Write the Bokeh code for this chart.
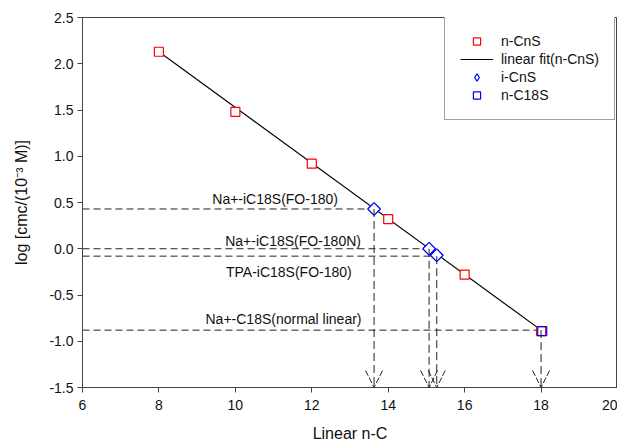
import math
from bokeh.plotting import figure
from bokeh.models import (ColumnDataSource, Arrow, OpenHead, Label, Legend,
                          LegendItem, FixedTicker, Range1d)
from bokeh.embed import file_html
from bokeh.resources import INLINE

# ---- data ----
ncns_x = [8, 10, 12, 14, 16, 18]
ncns_y = [2.13, 1.48, 0.92, 0.32, -0.28, -0.89]
fit_x = [8, 18]
fit_y = [2.13, -0.88]
icns_x = [13.63, 15.07, 15.27]
icns_y = [0.43, 0.0, -0.07]
nc18_x = [18.03]
nc18_y = [-0.89]
guide_x = [13.63, 15.07, 15.27, 18.0]
guide_y = [0.43, 0.0, -0.08, -0.88]
guide_labels = ["Na+-iC18S(FO-180)", "Na+-iC18S(FO-180N)",
                "TPA-iC18S(FO-180)", "Na+-C18S(normal linear)"]
x_ticks = [6, 8, 10, 12, 14, 16, 18, 20]
y_ticks = [-1.5, -1.0, -0.5, 0.0, 0.5, 1.0, 1.5, 2.0, 2.5]

# ---- styling / placement ----
FONT = "Liberation Sans"
AXC = "#444444"
label_cx = [11.04, 11.51, 11.40, 11.26]
label_dy = [10, 8, -16, 11]

p = figure(output_backend="svg", toolbar_location=None,
           frame_width=535, frame_height=370,
           min_border_left=82, min_border_right=0,
           min_border_top=17, min_border_bottom=60,
           x_range=Range1d(6, 20), y_range=Range1d(-1.5, 2.5))
p.xgrid.visible = False
p.ygrid.visible = False
p.outline_line_color = AXC
p.outline_line_width = 1
p.background_fill_color = "white"
p.border_fill_color = "white"

for ax in (p.xaxis[0], p.yaxis[0]):
    ax.axis_line_color = AXC
    ax.major_tick_line_color = AXC
    ax.minor_tick_line_color = None
    ax.major_tick_out = 5
    ax.major_tick_in = 0
    ax.major_label_text_font = FONT
    ax.major_label_text_font_size = "14px"
    ax.major_label_text_color = "#111111"
    ax.axis_label_text_font = FONT
    ax.axis_label_text_font_size = "16px"
    ax.axis_label_text_font_style = "normal"
    ax.axis_label_text_color = "#111111"

p.xaxis.ticker = FixedTicker(ticks=x_ticks)
p.yaxis.ticker = FixedTicker(ticks=y_ticks)
p.yaxis.major_label_overrides = {t: f"{t:.1f}" for t in y_ticks}
p.xaxis.axis_label = "Linear n-C"
p.yaxis.axis_label = "log [cmc/(10⁻³ M)]"
p.xaxis.major_label_standoff = 7
p.yaxis.major_label_standoff = 4
p.xaxis.axis_label_standoff = 12
p.yaxis.axis_label_standoff = 16

# guide lines
gsrc = ColumnDataSource(dict(x0=[6] * len(guide_x), x=guide_x, y=guide_y,
                             yb=[-1.5] * len(guide_x)))
p.segment(x0="x0", y0="y", x1="x", y1="y", source=gsrc,
          line_color="#222222", line_width=1, line_dash="7 4")
p.add_layout(Arrow(source=gsrc, x_start="x", y_start="y", x_end="x", y_end="yb",
                   line_color="#222222", line_width=1, line_dash="8 4",
                   end=OpenHead(size=17, line_color="#222222", line_width=1,
                                line_dash="6 2")))

for t, cx, gy, dy in zip(guide_labels, label_cx, guide_y, label_dy):
    p.add_layout(Label(x=cx, y=gy, y_offset=dy, text=t, text_align="center",
                       text_baseline="middle", text_font=FONT,
                       text_font_size="14px", text_color="#111111"))

# data
fit_r = p.line(fit_x, fit_y, line_color="black", line_width=1.1)
sq_r = p.scatter(ncns_x, ncns_y, marker="square", size=9, line_color="#ff0000",
                 fill_color="white", line_width=1.2)
c18_r = p.scatter(nc18_x, nc18_y, marker="square", size=9, line_color="#0000ff",
                  fill_color=None, line_width=1.2)
# legend proxy for the diamond symbol (legend glyphs are drawn unrotated);
# it sits underneath the rotated squares and is hidden by them
di_leg = p.scatter(icns_x, icns_y, marker="diamond", size=8, line_color="#0000ff",
                   fill_color="white", line_width=1.2)
di_r = p.scatter(icns_x, icns_y, marker="square", angle=math.pi / 4, size=9,
                 line_color="#0000ff", fill_color="white", line_width=1.3)

legend = Legend(items=[
    LegendItem(label="n-CnS", renderers=[sq_r]),
    LegendItem(label="linear fit(n-CnS)", renderers=[fit_r]),
    LegendItem(label="i-CnS", renderers=[di_leg]),
    LegendItem(label="n-C18S", renderers=[c18_r]),
], location=(362, 267), orientation="vertical")
legend.label_text_font = FONT
legend.label_text_font_size = "14px"
legend.label_text_color = "#111111"
legend.glyph_width = 33
legend.glyph_height = 18
legend.label_height = 18
legend.label_standoff = 8
legend.spacing = 0
legend.padding = 15
legend.margin = 0
legend.border_line_color = AXC
legend.border_line_width = 1
legend.background_fill_color = "white"
legend.background_fill_alpha = 1
p.add_layout(legend)

open("out.html", "w").write(file_html(p, INLINE))
